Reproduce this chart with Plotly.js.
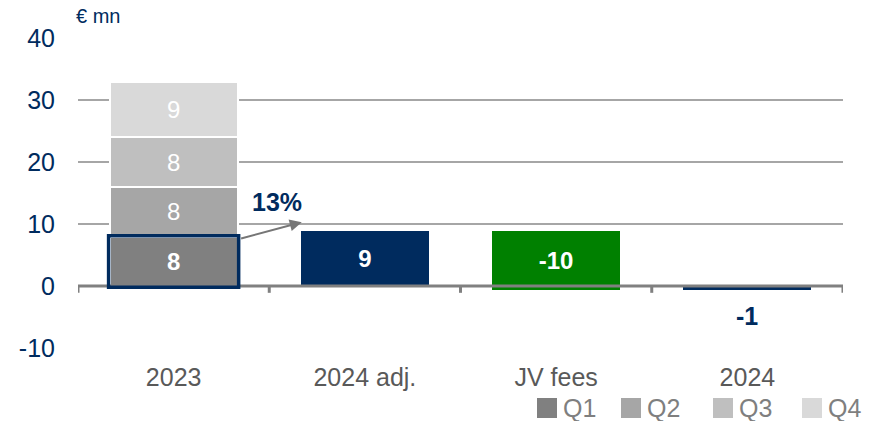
<!DOCTYPE html>
<html><head><meta charset="utf-8">
<script src="https://cdn.plot.ly/plotly-3.0.1.min.js"></script>
<style>html,body{margin:0;padding:0;background:#fff}</style>
</head><body><div id="chart" style="width:881px;height:421px"></div>
<script>
const categories = ['2023', '2024 adj.', 'JV fees', '2024'];
const quarterNames = ['Q1', 'Q2', 'Q3', 'Q4'];
const quarters2023 = [7.9, 8.1, 8.0, 8.9];
const quarterLabels = ['8', '8', '8', '9'];
const adj2024 = 8.9, adj2024Label = '9';
const jvFees = -9.6, jvFeesLabel = '-10';
const fy2024 = -0.7, fy2024Label = '-1';
const growthLabel = '13%';
const yTicks = [-10, 0, 10, 20, 30, 40];

const navy = '#002B5E', green = '#008000';
const qColors = ['#808080', '#A6A6A6', '#BFBFBF', '#D9D9D9'];
const font = 'Liberation Sans, Arial, sans-serif';
const barWidth = 0.67;

const traces = quarterNames.map((q, i) => ({
  type: 'bar', x: [categories[0]], y: [quarters2023[i]], name: q, width: barWidth,
  marker: {color: qColors[i], line: {color: '#fff', width: 2}},
  text: [quarterLabels[i]], textposition: 'inside', insidetextanchor: 'middle', textangle: 0,
  textfont: {color: '#fff', size: 24, family: font, weight: i === 0 ? 700 : 400},
  hoverinfo: 'skip', showlegend: false
}));
traces.push({
  type: 'bar', x: [categories[1]], y: [adj2024], width: barWidth, marker: {color: navy, line: {width: 0}},
  text: [adj2024Label], textposition: 'inside', insidetextanchor: 'middle', textangle: 0,
  textfont: {color: '#fff', size: 24, family: font, weight: 700}, showlegend: false, hoverinfo: 'skip'
});
traces.push({
  type: 'bar', x: [categories[2]], y: [jvFees], base: [adj2024], width: barWidth, marker: {color: green, line: {width: 0}},
  text: [jvFeesLabel], textposition: 'inside', insidetextanchor: 'middle', textangle: 0,
  textfont: {color: '#fff', size: 24, family: font, weight: 700}, showlegend: false, hoverinfo: 'skip'
});
traces.push({
  type: 'bar', x: [categories[3]], y: [fy2024], width: barWidth, marker: {color: navy, line: {width: 0}},
  showlegend: false, hoverinfo: 'skip'
});

const shapes = [{type: 'line', xref: 'paper', x0: 0, x1: 1, yref: 'y', y0: 0, y1: 0,
  line: {color: '#808080', width: 3}, layer: 'above'}];
for (let i = 0; i <= categories.length; i++) {
  shapes.push({type: 'line', xref: 'x', x0: i - 0.5, x1: i - 0.5, yref: 'y', y0: 0, y1: -1.1,
    line: {color: '#808080', width: 3}, layer: 'above'});
}
// highlight box around 2023 Q1
shapes.push({type: 'rect', xref: 'x', yref: 'y', x0: -barWidth / 2 - 0.005, x1: barWidth / 2 + 0.005,
  y0: -0.2, y1: quarters2023[0] + 0.2, line: {color: navy, width: 3.5}, fillcolor: 'rgba(0,0,0,0)', layer: 'above'});

const annotations = [
  {xref: 'paper', yref: 'paper', x: 0.026, y: 1.07, text: '€ mn', showarrow: false,
    xanchor: 'center', yanchor: 'middle', font: {size: 20, color: navy, family: font}},
  {xref: 'x', yref: 'y', x: 0.54, y: 13.6, text: '<b>' + growthLabel + '</b>', showarrow: false,
    font: {size: 25, color: navy, family: font}},
  {xref: 'x', yref: 'y', x: categories.indexOf('2024'), y: fy2024, text: '<b>' + fy2024Label + '</b>', showarrow: false,
    xanchor: 'center', yanchor: 'top', yshift: -10, font: {size: 25, color: navy, family: font}},
  {xref: 'x', yref: 'y', axref: 'x', ayref: 'y', x: 0.67, y: 10.3, ax: 0.345, ay: 7.6,
    text: '', showarrow: true, arrowhead: 2, arrowsize: 1.2, arrowwidth: 2, arrowcolor: '#767676'}
];

// legend (custom, larger swatches)
const W = 881, H = 421, mL = 78, mR = 38, mT = 38, mB = 73;
const pw = W - mL - mR, ph = H - mT - mB;
const legendX = [537, 621, 713, 802];
const px = v => (v - mL) / pw, py = v => (H - mB - v) / ph;
quarterNames.forEach((q, i) => {
  shapes.push({type: 'rect', xref: 'paper', yref: 'paper', x0: px(legendX[i]), x1: px(legendX[i] + 20),
    y0: py(418), y1: py(398), fillcolor: qColors[i], line: {width: 0}});
  annotations.push({xref: 'paper', yref: 'paper', x: px(legendX[i] + 24), y: py(408), text: q,
    showarrow: false, xanchor: 'left', yanchor: 'middle', font: {size: 25, color: '#7F7F7F', family: font}});
});

const layout = {
  width: W, height: H,
  margin: {l: mL, r: mR, t: mT, b: mB},
  paper_bgcolor: '#fff', plot_bgcolor: '#fff',
  barmode: 'stack', showlegend: false,
  font: {family: font},
  xaxis: {type: 'category', categoryorder: 'array', categoryarray: categories,
    showgrid: false, zeroline: false, showline: false, ticks: '',
    tickfont: {size: 25, color: '#595959', family: font}, range: [-0.5, 3.5], ticklabelstandoff: 12},
  yaxis: {range: [-10, 40], tickvals: yTicks, ticktext: yTicks.map(String),
    showgrid: true, gridcolor: '#A6A6A6', gridwidth: 1.5, zeroline: false, showline: false,
    tickfont: {size: 25, color: navy, family: font}, ticklabelstandoff: 22},
  shapes: shapes,
  annotations: annotations
};
Plotly.newPlot('chart', traces, layout, {displayModeBar: false, staticPlot: true});
</script></body></html>
